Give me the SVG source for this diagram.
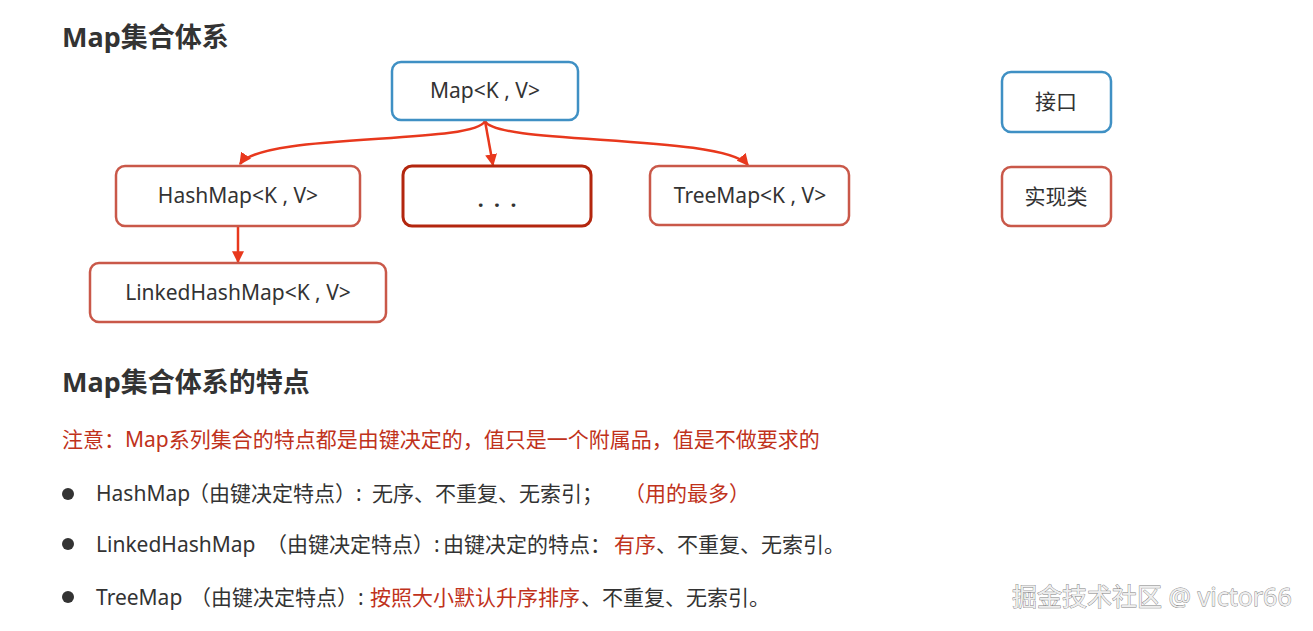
<svg xmlns="http://www.w3.org/2000/svg" width="1313" height="631" viewBox="0 0 1313 631">
<style>
  text { font-family: "Noto Sans", "Noto Sans CJK SC", sans-serif; fill: #333; }
  .title { font-size: 27px; font-weight: bold; }
  .lbl { font-size: 21px; text-anchor: middle; }
  .body { font-size: 21px; }
  .red { fill: #c0321b; }
  .iface { fill: #fff; stroke: #3f90c4; stroke-width: 2.5; }
  .impl { fill: #fff; stroke: #c95849; stroke-width: 2.5; }
  .impl2 { fill: #fff; stroke: #b3260e; stroke-width: 3; }
  .edge { fill: none; stroke: #e8381d; stroke-width: 2.5; }
  .wm { font-size: 25px; fill: #eeeeee; stroke: #7d7d7d; stroke-width: 0.8; paint-order: stroke; }
</style>
<defs>
  <marker id="arr" viewBox="0 0 10 10" refX="9" refY="5" markerWidth="12" markerHeight="12" markerUnits="userSpaceOnUse" orient="auto">
    <path d="M0,0 L10,5 L0,10 z" fill="#e8381d"/>
  </marker>
</defs>
<rect width="1313" height="631" fill="#fff"/>

<text class="title" x="62" y="47">Map集合体系</text>

<g id="connectors">
  <path class="edge" d="M485,121 C475,145 262,132 240,164" marker-end="url(#arr)"/>
  <path class="edge" d="M485,121 L493,165" marker-end="url(#arr)"/>
  <path class="edge" d="M485,121 C495,145 722,134 748,165" marker-end="url(#arr)"/>
  <path class="edge" d="M238,227 L238,262" marker-end="url(#arr)"/>
</g>

<g id="map">
  <rect class="iface" x="392" y="62" width="186" height="58" rx="9"/>
  <text class="lbl" x="485" y="98">Map&lt;K , V&gt;</text>
</g>
<g id="hashmap">
  <rect class="impl" x="116" y="166" width="244" height="60" rx="9"/>
  <text class="lbl" x="238" y="203">HashMap&lt;K , V&gt;</text>
</g>
<g id="others">
  <rect class="impl2" x="403" y="166" width="188" height="60" rx="9"/>
  <text class="lbl" x="497" y="207" style="word-spacing:5px;font-weight:bold">. . .</text>
</g>
<g id="treemap">
  <rect class="impl" x="650" y="166" width="199" height="59" rx="9"/>
  <text class="lbl" x="750" y="203">TreeMap&lt;K , V&gt;</text>
</g>
<g id="linkedhashmap">
  <rect class="impl" x="90" y="263" width="296" height="59" rx="9"/>
  <text class="lbl" x="238" y="300">LinkedHashMap&lt;K , V&gt;</text>
</g>
<g id="legend-interface">
  <rect class="iface" x="1002" y="72" width="109" height="60" rx="9"/>
  <text class="lbl" x="1056" y="109">接口</text>
</g>
<g id="legend-impl">
  <rect class="impl" x="1002" y="167" width="109" height="59" rx="9"/>
  <text class="lbl" x="1056" y="204">实现类</text>
</g>

<text class="title" x="62" y="392">Map集合体系的特点</text>
<text class="body red" x="62" y="447">注意：Map系列集合的特点都是由键决定的，值只是一个附属品，值是不做要求的</text>

<circle cx="68" cy="494" r="6" fill="#333"/>
<text class="body" y="501"><tspan x="96">HashMap</tspan><tspan x="188">（由键决定特点）:</tspan><tspan x="372">无序、不重复、无索引；</tspan><tspan x="624" class="red">（用的最多）</tspan></text>

<circle cx="68" cy="544" r="6" fill="#333"/>
<text class="body" y="552"><tspan x="96">LinkedHashMap</tspan><tspan x="266">（由键决定特点）:</tspan><tspan x="443">由键决定的特点：</tspan><tspan x="614" class="red">有序</tspan><tspan x="656">、不重复、无索引。</tspan></text>

<circle cx="68" cy="597" r="6" fill="#333"/>
<text class="body" y="605"><tspan x="96">TreeMap</tspan><tspan x="190">（由键决定特点）:</tspan><tspan x="370" class="red">按照大小默认升序排序</tspan><tspan x="581">、不重复、无索引。</tspan></text>

<text class="wm" x="1012" y="606">掘金技术社区 @ victor66</text>
</svg>
